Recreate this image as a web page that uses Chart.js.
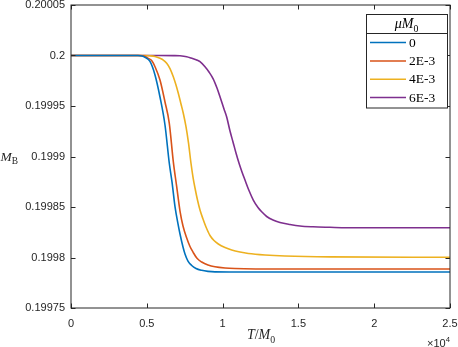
<!DOCTYPE html>
<html><head><meta charset="utf-8">
<script src="https://cdn.jsdelivr.net/npm/chart.js@4"></script>
<style>html,body{margin:0;padding:0;background:#fff}#wrap{width:458px;height:347px}</style>
</head><body><div id="wrap"><canvas id="c" width="458" height="347"></canvas></div>
<script>
// ---- data ----
const seriesNames = ['0', '2E-3', '4E-3', '6E-3'];
const colors = ['#0072BD', '#D95319', '#EDB120', '#7E2F8E'];

const t0 = [0, 4419, 4683, 4881, 5211, 5541, 5870, 6200, 6484, 6662, 6860, 7058, 7190, 7388, 7519, 7717, 7961, 8245, 8621, 9037, 9498, 11807, 25000];
const m0 = [0.2, 0.2, 0.1999995, 0.1999982, 0.1999941, 0.1999807, 0.1999589, 0.1999312, 0.1998933, 0.1998748, 0.1998503, 0.1998332, 0.1998233, 0.1998104, 0.1998035, 0.1997965, 0.1997921, 0.1997891, 0.1997873, 0.1997863, 0.1997858, 0.1997856, 0.1997856];

const t1 = [0, 4551, 4815, 5099, 5343, 5541, 5870, 6200, 6484, 6748, 6972, 7190, 7388, 7632, 7849, 8047, 8311, 8621, 9037, 9498, 10158, 10817, 14115, 25000];
const m1 = [0.2, 0.2, 0.1999995, 0.1999972, 0.1999946, 0.1999889, 0.1999757, 0.199954, 0.1999329, 0.199895, 0.1998701, 0.199846, 0.1998312, 0.1998193, 0.1998109, 0.1998054, 0.1997992, 0.1997955, 0.1997926, 0.1997908, 0.1997896, 0.1997891, 0.1997886, 0.1997886];

const t2 = [0, 4881, 5211, 5541, 5870, 6088, 6312, 6530, 6748, 6926, 7078, 7256, 7407, 7585, 7750, 7915, 8047, 8179, 8344, 8509, 8707, 8905, 9168, 9432, 9716, 10158, 10600, 11147, 11695, 12796, 14115, 17084, 25000];
const m2 = [0.2, 0.2, 0.1999997, 0.199999, 0.1999972, 0.1999955, 0.1999923, 0.1999871, 0.199979, 0.1999708, 0.1999626, 0.199952, 0.1999428, 0.1999295, 0.1999134, 0.1998933, 0.1998797, 0.1998688, 0.1998569, 0.199847, 0.1998381, 0.1998302, 0.1998218, 0.1998168, 0.1998134, 0.1998099, 0.1998074, 0.1998054, 0.199804, 0.1998025, 0.1998015, 0.1998006, 0.1998002];

const t3 = [0, 5870, 6748, 7190, 7632, 7915, 8291, 8509, 8839, 9102, 9386, 9630, 9828, 10092, 10270, 10488, 10686, 10883, 11101, 11279, 11477, 11741, 12025, 12335, 12598, 12908, 13324, 13786, 14445, 15105, 15962, 17084, 18185, 25000];
const m3 = [0.2, 0.2, 0.1999999, 0.1999997, 0.1999988, 0.1999975, 0.1999955, 0.1999939, 0.1999889, 0.1999837, 0.1999767, 0.1999678, 0.1999592, 0.199947, 0.1999391, 0.1999252, 0.1999144, 0.1999035, 0.1998926, 0.1998847, 0.1998767, 0.1998663, 0.1998569, 0.1998495, 0.199845, 0.1998406, 0.1998371, 0.1998347, 0.1998327, 0.1998312, 0.1998304, 0.1998299, 0.1998295, 0.1998294];

const xTickValues = [0, 5000, 10000, 15000, 20000, 25000];
const xTickLabels = ['0', '0.5', '1', '1.5', '2', '2.5'];
const yTickValues = [0.19975, 0.1998, 0.19985, 0.1999, 0.19995, 0.2, 0.20005];
const yTickLabels = ['0.19975', '0.1998', '0.19985', '0.1999', '0.19995', '0.2', '0.20005'];

// ---- build ----
const T = [t0, t1, t2, t3];
const M = [m0, m1, m2, m3];
const datasets = seriesNames.map((name, i) => ({
  label: name,
  data: T[i].map((t, k) => ({x: t, y: M[i][k]})),
  borderColor: colors[i],
  backgroundColor: colors[i],
  borderWidth: 1.6,
  pointRadius: 0,
  fill: false,
  cubicInterpolationMode: 'monotone'
}));

const AX = '#262626';
const SANS = "'Liberation Sans', Arial, Helvetica, sans-serif";
const SERIF = "'Liberation Serif', 'Times New Roman', serif";
const AREA = {left: 71, top: 5, right: 450, bottom: 308};

function drawMath(ctx, parts, x, y, size, align) {
  const fonts = parts.map(p => {
    const s = (p.sub || p.sup) ? size * 0.7 : size;
    return (p.it ? 'italic ' : '') + s + 'px ' + (p.sans ? SANS : SERIF);
  });
  let w = 0;
  parts.forEach((p, i) => { ctx.font = fonts[i]; w += ctx.measureText(p.t).width; });
  let cx = align === 'center' ? x - w / 2 : (align === 'right' ? x - w : x);
  ctx.textAlign = 'left';
  ctx.textBaseline = 'alphabetic';
  parts.forEach((p, i) => {
    ctx.font = fonts[i];
    const dy = p.sub ? size * 0.25 : (p.sup ? -size * 0.45 : 0);
    ctx.fillText(p.t, cx, y + dy);
    cx += ctx.measureText(p.t).width;
  });
}

const fixArea = {
  id: 'fixArea',
  afterLayout(chart) {
    const a = chart.chartArea;
    Object.assign(a, AREA, {width: AREA.right - AREA.left, height: AREA.bottom - AREA.top});
    const {x, y} = chart.scales;
    Object.assign(x, {left: AREA.left, right: AREA.right, width: AREA.right - AREA.left, top: AREA.bottom, bottom: 347, height: 347 - AREA.bottom});
    Object.assign(y, {left: 0, right: AREA.left, width: AREA.left, top: AREA.top, bottom: AREA.bottom, height: AREA.bottom - AREA.top});
    x.configure();
    y.configure();
    x._labelItems = null;
    y._labelItems = null;
  }
};

const frame = {
  id: 'frame',
  afterDraw(chart) {
    const {ctx, chartArea: a, scales: {x, y}} = chart;
    ctx.save();
    ctx.strokeStyle = AX;
    ctx.lineWidth = 1;
    const tl = 4.5;
    ctx.beginPath();
    xTickValues.forEach(v => {
      const px = Math.round(x.getPixelForValue(v)) + 0.5;
      ctx.moveTo(px, a.bottom); ctx.lineTo(px, a.bottom - tl);
      ctx.moveTo(px, a.top); ctx.lineTo(px, a.top + tl);
    });
    yTickValues.forEach(v => {
      const py = Math.round(y.getPixelForValue(v)) + 0.5;
      ctx.moveTo(a.left, py); ctx.lineTo(a.left + tl, py);
      ctx.moveTo(a.right, py); ctx.lineTo(a.right - tl, py);
    });
    ctx.stroke();
    ctx.strokeRect(a.left, a.top, a.right - a.left, a.bottom - a.top);

    // axis labels
    ctx.fillStyle = AX;
    drawMath(ctx, [{t: 'M', it: true}, {t: 'B', sub: true}], 0.5, 161, 13.5, 'left');
    drawMath(ctx, [{t: 'T', it: true}, {t: '/'}, {t: 'M', it: true}, {t: '0', sub: true}], 261, 339, 14, 'center');
    drawMath(ctx, [{t: '\u00d710', sans: true}, {t: '4', sup: true, sans: true}], a.right, 346.5, 11, 'right');

    // legend
    const lx = 366, ly = 14, lw = 81, lh = 93.5;
    ctx.fillStyle = '#fff';
    ctx.fillRect(lx, ly, lw, lh);
    ctx.strokeStyle = AX;
    ctx.lineWidth = 1;
    ctx.strokeRect(lx + 0.5, ly + 0.5, lw, lh);
    ctx.beginPath();
    ctx.moveTo(lx, 33.5); ctx.lineTo(lx + lw, 33.5);
    ctx.stroke();
    ctx.fillStyle = '#000';
    drawMath(ctx, [{t: '\u03bc', it: true}, {t: 'M', it: true}, {t: '0', sub: true}], lx + lw / 2, 28, 14, 'center');
    const rows = [42.5, 61, 79.3, 97.5];
    chart.data.datasets.forEach((ds, i) => {
      ctx.strokeStyle = ds.borderColor;
      ctx.lineWidth = 1.6;
      ctx.beginPath();
      ctx.moveTo(370, rows[i]); ctx.lineTo(406, rows[i]);
      ctx.stroke();
      ctx.fillStyle = '#000';
      ctx.font = '13.5px ' + SERIF;
      ctx.textAlign = 'left';
      ctx.textBaseline = 'middle';
      ctx.fillText(ds.label, 409, rows[i] + 0.5);
    });
    ctx.restore();
  }
};

new Chart(document.getElementById('c'), {
  type: 'line',
  data: {datasets},
  options: {
    responsive: false,
    devicePixelRatio: 1,
    animation: false,
    layout: {padding: 0},
    plugins: {legend: {display: false}, tooltip: {enabled: false}},
    scales: {
      x: {
        type: 'linear', min: 0, max: 25000,
        afterBuildTicks: s => { s.ticks = xTickValues.map(v => ({value: v})); },
        grid: {display: false, drawTicks: false, tickLength: 0},
        border: {display: false},
        ticks: {
          autoSkip: false, maxRotation: 0, padding: 9,
          color: AX, font: {family: SANS, size: 11},
          callback: (v, i) => xTickLabels[i]
        }
      },
      y: {
        type: 'linear', min: 0.19975, max: 0.20005,
        afterBuildTicks: s => { s.ticks = yTickValues.map(v => ({value: v})); },
        grid: {display: false, drawTicks: false, tickLength: 0},
        border: {display: false},
        ticks: {
          autoSkip: false, padding: 6,
          color: AX, font: {family: SANS, size: 11, lineHeight: 1},
          callback: (v, i) => yTickLabels[i]
        }
      }
    }
  },
  plugins: [fixArea, frame]
});
</script>
</body></html>
